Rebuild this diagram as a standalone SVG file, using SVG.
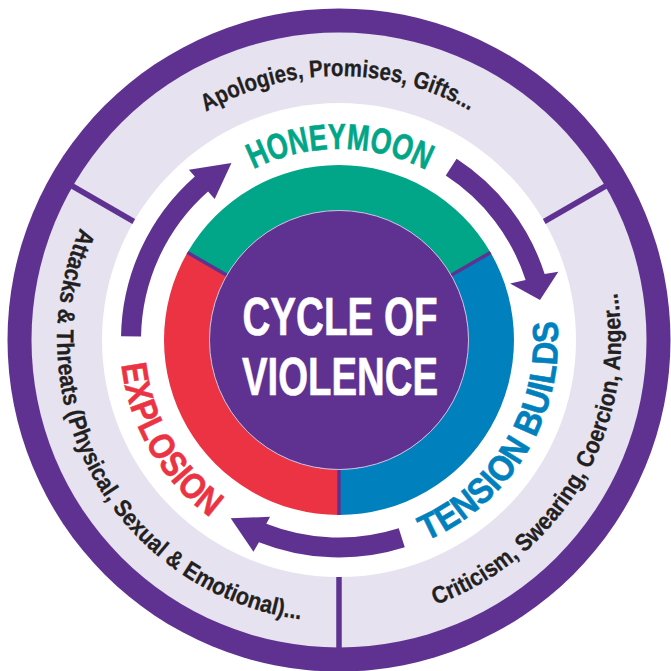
<svg xmlns="http://www.w3.org/2000/svg" xmlns:xlink="http://www.w3.org/1999/xlink" width="671" height="671" viewBox="0 0 671 671">
  <style>
    .purple { fill: #5F3291; }
    .lav { fill: #E6E2F0; }
    .div { stroke: #5F3291; stroke-width: 5.5; }
    .segdiv { stroke: #5F3291; stroke-width: 3.5; }
    .outer-txt { font-family: "Liberation Sans Narrow", "Liberation Sans", Arial, sans-serif; font-weight: bold; font-size: 24px; fill: #231F20; stroke: #231F20; stroke-width: 0.3; }
    .label { font-family: "Liberation Sans Narrow", "Liberation Sans", Arial, sans-serif; font-weight: bold; font-size: 36px; stroke-width: 0.6; }
    .center-txt { font-family: "Liberation Sans Narrow", "Liberation Sans", Arial, sans-serif; font-weight: bold; font-size: 53px; fill: #FFFFFF; stroke: #FFFFFF; stroke-width: 0.6; }
    .arrow { fill: #5F3291; }
  </style>
  <defs>
    <path id="p-top" d="M 206.21,111.82 A 264 264 0 0 1 469.81,110.69"/>
    <path id="p-right" d="M 435.45,604.99 A 282 282 0 0 0 617.05,292.96"/>
    <path id="p-left" d="M 80.18,228.02 A 282 282 0 0 0 300.25,619.32"/>
    <path id="p-honey" d="M 253.47,169.21 A 191 191 0 0 1 426.31,170.12"/>
    <path id="p-expl" d="M 121.4,364.79 A 219 219 0 0 0 210.27,517.17"/>
    <path id="p-tens" d="M 425.97,541.0 A 219 219 0 0 0 557.17,320.91"/>
  </defs>

  <g id="outer-ring">
    <circle cx="339" cy="340" r="331.5" class="purple"/>
    <circle cx="339" cy="340" r="307.5" class="lav"/>
    <circle cx="339" cy="340" r="237" fill="#FFFFFF"/>
    <line x1="133.75" y1="221.5" x2="72.27" y2="186" class="div"/>
    <line x1="544.25" y1="221.5" x2="605.73" y2="186" class="div"/>
    <line x1="339" y1="577" x2="339" y2="648" class="div"/>
    <text class="outer-txt"><textPath xlink:href="#p-top" href="#p-top" textLength="276" lengthAdjust="spacingAndGlyphs">Apologies, Promises, Gifts...</textPath></text>
    <text class="outer-txt"><textPath xlink:href="#p-right" href="#p-right" textLength="391.8" lengthAdjust="spacingAndGlyphs">Criticism, Swearing, Coercion, Anger...</textPath></text>
    <text class="outer-txt"><textPath xlink:href="#p-left" href="#p-left" textLength="519.3" lengthAdjust="spacingAndGlyphs">Attacks &amp; Threats (Physical, Sexual &amp; Emotional)...</textPath></text>
  </g>

  <g id="honeymoon">
    <path d="M 187.45,252.5 A 175 175 0 0 1 490.55,252.5 L 451.15,275.25 A 129.5 129.5 0 0 0 226.85,275.25 Z" fill="#00A687"/>
    <text class="label" fill="#00A687" stroke="#00A687"><textPath xlink:href="#p-honey" href="#p-honey" textLength="179.3" lengthAdjust="spacingAndGlyphs">HONEYMOON</textPath></text>
  </g>

  <g id="tension-builds">
    <path d="M 490.55,252.5 A 175 175 0 0 1 339,515 L 339,469.5 A 129.5 129.5 0 0 0 451.15,275.25 Z" fill="#0081BE"/>
    <text class="label" fill="#0081BE" stroke="#0081BE"><textPath xlink:href="#p-tens" href="#p-tens" textLength="273.7" lengthAdjust="spacingAndGlyphs">TENSION BUILDS</textPath></text>
  </g>

  <g id="explosion">
    <path d="M 339,515 A 175 175 0 0 1 187.45,252.5 L 226.85,275.25 A 129.5 129.5 0 0 0 339,469.5 Z" fill="#EC3343"/>
    <text class="label" fill="#EC3343" stroke="#EC3343"><textPath xlink:href="#p-expl" href="#p-expl" textLength="181.6" lengthAdjust="spacingAndGlyphs">EXPLOSION</textPath></text>
  </g>

  <g id="segment-dividers">
    <line x1="187.45" y1="252.5" x2="226.85" y2="275.25" class="segdiv"/>
    <line x1="490.55" y1="252.5" x2="451.15" y2="275.25" class="segdiv"/>
    <line x1="339" y1="515" x2="339" y2="469.5" class="segdiv"/>
  </g>

  <g id="center">
    <circle cx="339" cy="340" r="129.5" class="purple" stroke="#C9BDE0" stroke-width="1"/>
    <text class="center-txt" x="340" y="335" text-anchor="middle" textLength="195" lengthAdjust="spacingAndGlyphs">CYCLE OF</text>
    <text class="center-txt" x="340" y="395" text-anchor="middle" textLength="196" lengthAdjust="spacingAndGlyphs">VIOLENCE</text>
  </g>

  <g id="connectors">
    <path class="arrow" d="M 121.03,336.2 A 218 218 0 0 1 194.84,176.47 L 188.88,169.73 L 231.46,163.12 L 214.68,198.98 L 208.06,191.48 A 198 198 0 0 0 141.03,336.54 Z"/>
    <path class="arrow" d="M 456.63,158.84 A 216 216 0 0 1 544.65,273.97 L 558.32,271.69 L 540,300 L 510.08,283.43 L 525.61,280.08 A 196 196 0 0 0 445.74,175.61 Z"/>
    <path class="arrow" d="M 404.77,547.32 A 217.5 217.5 0 0 1 258.94,542.23 L 253.44,551.77 L 230.7,518.3 L 270.08,516.74 L 266.30,523.64 A 197.5 197.5 0 0 0 398.72,528.26 Z"/>
  </g>
</svg>
